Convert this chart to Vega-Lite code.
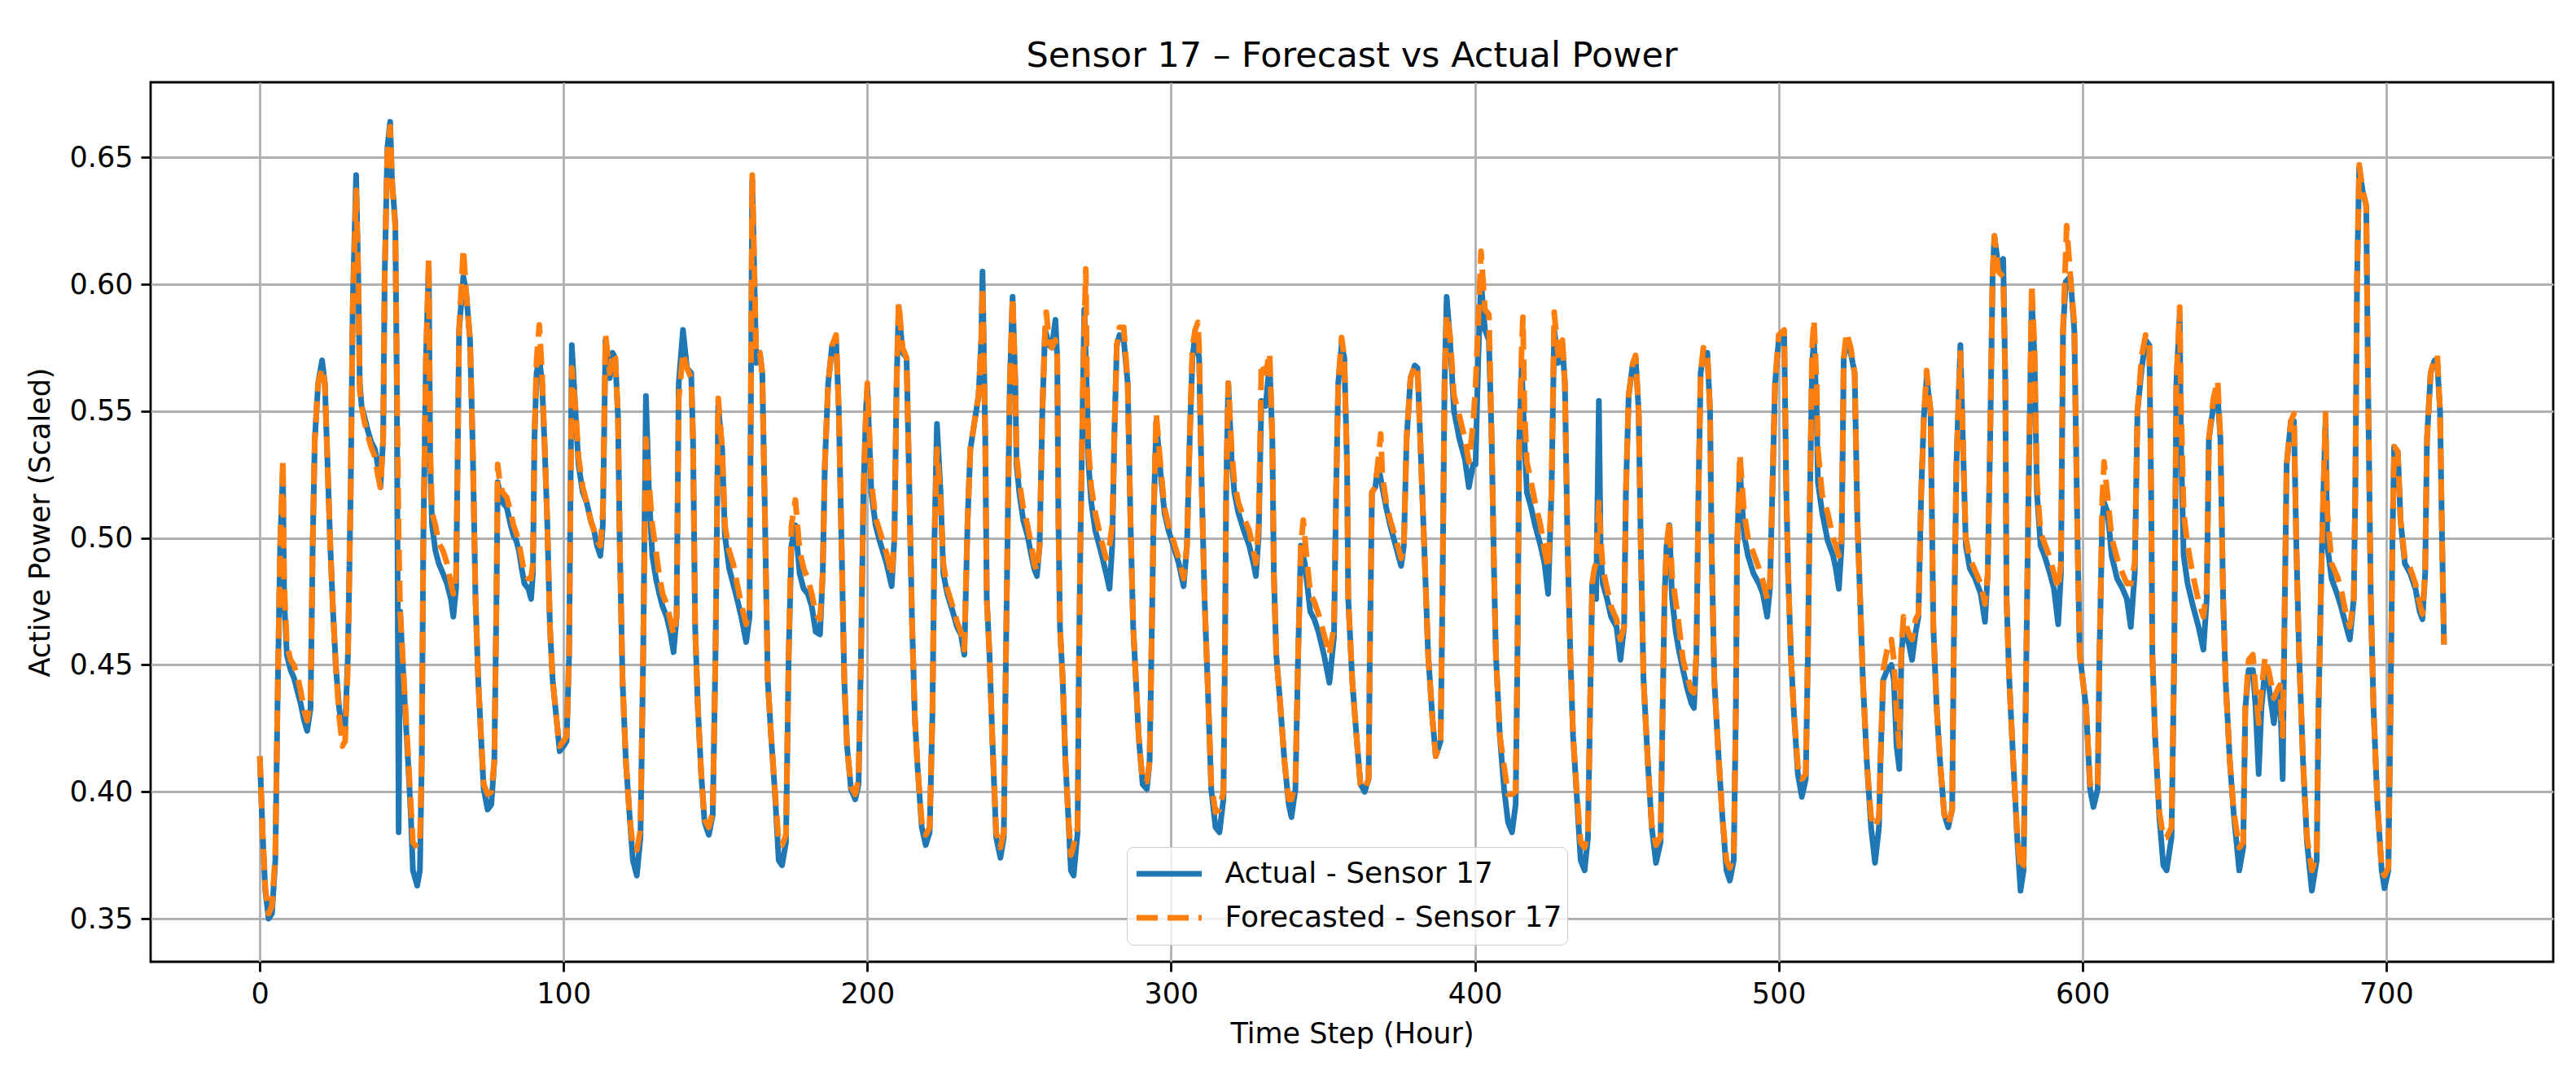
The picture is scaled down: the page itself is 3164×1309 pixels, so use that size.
{
"$schema":"https://vega.github.io/schema/vega-lite/v6.json",
"width":2951,"height":1080,
"autosize":{"type":"none"},
"padding":{"left":185,"top":101,"right":28,"bottom":128},
"background":"white",
"config":{"font":"DejaVu Sans","view":{"stroke":"black","strokeWidth":2.8},
"axis":{"labelFont":"DejaVu Sans","titleFont":"DejaVu Sans","labelFontSize":35,"titleFontSize":35,"titleFontWeight":"normal","labelColor":"black","titleColor":"black","tickColor":"black","tickWidth":2.8,"tickSize":12,"labelPadding":10,"domain":false,"grid":true,"gridColor":"#b0b0b0","gridWidth":2.8,"labelFlush":false,"labelOverlap":false},
"legend":{"labelFontSize":36,"labelFont":"DejaVu Sans","labelColor":"black","labelLimit":1000,"symbolType":"stroke","symbolSize":6400,"symbolStrokeWidth":7,"symbolOffset":2.5,"labelOffset":25,"padding":6,"rowPadding":0,"clipHeight":54,"strokeColor":"#cccccc","fillColor":"rgba(255,255,255,0.8)","cornerRadius":8}},
"title":{"text":"Sensor 17 – Forecast vs Actual Power","fontSize":43,"fontWeight":"normal","font":"DejaVu Sans","color":"black","anchor":"middle","offset":10},
"data":{"values":[
{"h":0,"v":0.414,"s":"a"},{"h":0.9,"v":0.384,"s":"a"},{"h":1.8,"v":0.361,"s":"a"},{"h":2.9,"v":0.350,"s":"a"},{"h":4.0,"v":0.352,"s":"a"},{"h":5.1,"v":0.373,"s":"a"},{"h":5.8,"v":0.433,"s":"a"},{"h":6.7,"v":0.497,"s":"a"},{"h":7.6,"v":0.527,"s":"a"},{"h":8.0,"v":0.476,"s":"a"},{"h":8.9,"v":0.454,"s":"a"},{"h":10.1,"v":0.448,"s":"a"},{"h":11.2,"v":0.445,"s":"a"},{"h":12.5,"v":0.439,"s":"a"},{"h":13.4,"v":0.435,"s":"a"},{"h":14.6,"v":0.428,"s":"a"},{"h":15.6,"v":0.424,"s":"a"},{"h":16.7,"v":0.433,"s":"a"},{"h":17.4,"v":0.497,"s":"a"},{"h":18.1,"v":0.539,"s":"a"},{"h":19.2,"v":0.561,"s":"a"},{"h":20.5,"v":0.570,"s":"a"},{"h":21.4,"v":0.561,"s":"a"},{"h":22.3,"v":0.529,"s":"a"},{"h":23.2,"v":0.497,"s":"a"},{"h":24.1,"v":0.471,"s":"a"},{"h":25.0,"v":0.450,"s":"a"},{"h":26.1,"v":0.433,"s":"a"},{"h":27.2,"v":0.424,"s":"a"},{"h":28.1,"v":0.426,"s":"a"},{"h":29.0,"v":0.454,"s":"a"},{"h":29.9,"v":0.518,"s":"a"},{"h":30.6,"v":0.593,"s":"a"},{"h":31.7,"v":0.643,"s":"a"},{"h":32.4,"v":0.603,"s":"a"},{"h":32.9,"v":0.561,"s":"a"},{"h":33.5,"v":0.552,"s":"a"},{"h":34.4,"v":0.548,"s":"a"},{"h":35.4,"v":0.543,"s":"a"},{"h":36.6,"v":0.538,"s":"a"},{"h":37.9,"v":0.535,"s":"a"},{"h":38.8,"v":0.529,"s":"a"},{"h":39.7,"v":0.520,"s":"a"},{"h":40.6,"v":0.539,"s":"a"},{"h":41.1,"v":0.603,"s":"a"},{"h":42.0,"v":0.654,"s":"a"},{"h":42.9,"v":0.664,"s":"a"},{"h":43.5,"v":0.641,"s":"a"},{"h":44.6,"v":0.624,"s":"a"},{"h":45.1,"v":0.561,"s":"a"},{"h":45.7,"v":0.384,"s":"a"},{"h":46.2,"v":0.471,"s":"a"},{"h":46.9,"v":0.454,"s":"a"},{"h":47.8,"v":0.433,"s":"a"},{"h":48.8,"v":0.412,"s":"a"},{"h":49.7,"v":0.391,"s":"a"},{"h":50.4,"v":0.369,"s":"a"},{"h":51.8,"v":0.363,"s":"a"},{"h":52.7,"v":0.369,"s":"a"},{"h":53.3,"v":0.412,"s":"a"},{"h":53.8,"v":0.497,"s":"a"},{"h":54.7,"v":0.571,"s":"a"},{"h":55.6,"v":0.607,"s":"a"},{"h":56.1,"v":0.529,"s":"a"},{"h":56.7,"v":0.505,"s":"a"},{"h":57.8,"v":0.495,"s":"a"},{"h":58.9,"v":0.490,"s":"a"},{"h":60.3,"v":0.486,"s":"a"},{"h":61.6,"v":0.482,"s":"a"},{"h":62.9,"v":0.476,"s":"a"},{"h":63.7,"v":0.469,"s":"a"},{"h":64.6,"v":0.480,"s":"a"},{"h":65.2,"v":0.539,"s":"a"},{"h":65.6,"v":0.582,"s":"a"},{"h":67.0,"v":0.603,"s":"a"},{"h":67.9,"v":0.597,"s":"a"},{"h":69.2,"v":0.578,"s":"a"},{"h":70.1,"v":0.535,"s":"a"},{"h":71.0,"v":0.476,"s":"a"},{"h":71.9,"v":0.444,"s":"a"},{"h":72.8,"v":0.422,"s":"a"},{"h":73.7,"v":0.401,"s":"a"},{"h":75.0,"v":0.393,"s":"a"},{"h":76.2,"v":0.395,"s":"a"},{"h":77.2,"v":0.412,"s":"a"},{"h":77.9,"v":0.476,"s":"a"},{"h":78.3,"v":0.522,"s":"a"},{"h":79.0,"v":0.518,"s":"a"},{"h":79.9,"v":0.514,"s":"a"},{"h":81.3,"v":0.512,"s":"a"},{"h":82.6,"v":0.505,"s":"a"},{"h":83.5,"v":0.501,"s":"a"},{"h":84.4,"v":0.499,"s":"a"},{"h":85.3,"v":0.495,"s":"a"},{"h":86.2,"v":0.488,"s":"a"},{"h":87.1,"v":0.482,"s":"a"},{"h":88.4,"v":0.480,"s":"a"},{"h":89.3,"v":0.476,"s":"a"},{"h":89.9,"v":0.486,"s":"a"},{"h":90.4,"v":0.539,"s":"a"},{"h":91.1,"v":0.565,"s":"a"},{"h":92.0,"v":0.571,"s":"a"},{"h":92.9,"v":0.561,"s":"a"},{"h":93.8,"v":0.535,"s":"a"},{"h":94.6,"v":0.507,"s":"a"},{"h":95.5,"v":0.465,"s":"a"},{"h":96.4,"v":0.444,"s":"a"},{"h":97.8,"v":0.427,"s":"a"},{"h":98.7,"v":0.416,"s":"a"},
{"h":100.0,"v":0.418,"s":"a"},{"h":101.0,"v":0.420,"s":"a"},{"h":101.8,"v":0.454,"s":"a"},{"h":102.7,"v":0.576,"s":"a"},{"h":104.0,"v":0.548,"s":"a"},{"h":104.9,"v":0.529,"s":"a"},{"h":106.3,"v":0.518,"s":"a"},{"h":107.6,"v":0.514,"s":"a"},{"h":108.9,"v":0.507,"s":"a"},{"h":110.0,"v":0.503,"s":"a"},{"h":111.0,"v":0.497,"s":"a"},{"h":112.1,"v":0.493,"s":"a"},{"h":112.9,"v":0.505,"s":"a"},{"h":113.8,"v":0.578,"s":"a"},{"h":115.2,"v":0.563,"s":"a"},{"h":116.1,"v":0.573,"s":"a"},{"h":117.0,"v":0.571,"s":"a"},{"h":117.9,"v":0.548,"s":"a"},{"h":118.5,"v":0.497,"s":"a"},{"h":119.4,"v":0.444,"s":"a"},{"h":120.5,"v":0.412,"s":"a"},{"h":121.7,"v":0.391,"s":"a"},{"h":122.8,"v":0.373,"s":"a"},{"h":124.1,"v":0.367,"s":"a"},{"h":125.3,"v":0.382,"s":"a"},{"h":126.2,"v":0.454,"s":"a"},{"h":127.1,"v":0.556,"s":"a"},{"h":128.1,"v":0.518,"s":"a"},{"h":129.2,"v":0.493,"s":"a"},{"h":130.4,"v":0.484,"s":"a"},{"h":131.5,"v":0.478,"s":"a"},{"h":132.6,"v":0.473,"s":"a"},{"h":133.9,"v":0.469,"s":"a"},{"h":135.1,"v":0.463,"s":"a"},{"h":136.2,"v":0.455,"s":"a"},{"h":137.2,"v":0.469,"s":"a"},{"h":137.9,"v":0.561,"s":"a"},{"h":139.3,"v":0.582,"s":"a"},{"h":140.6,"v":0.567,"s":"a"},{"h":142.0,"v":0.565,"s":"a"},{"h":142.6,"v":0.539,"s":"a"},{"h":143.3,"v":0.465,"s":"a"},{"h":144.2,"v":0.433,"s":"a"},{"h":145.3,"v":0.407,"s":"a"},{"h":146.4,"v":0.388,"s":"a"},{"h":147.8,"v":0.383,"s":"a"},{"h":149.1,"v":0.391,"s":"a"},{"h":150.0,"v":0.454,"s":"a"},{"h":150.9,"v":0.552,"s":"a"},{"h":152.2,"v":0.535,"s":"a"},{"h":153.1,"v":0.501,"s":"a"},{"h":154.5,"v":0.488,"s":"a"},{"h":155.8,"v":0.482,"s":"a"},{"h":157.1,"v":0.476,"s":"a"},{"h":158.5,"v":0.469,"s":"a"},{"h":160.1,"v":0.459,"s":"a"},{"h":161.2,"v":0.469,"s":"a"},{"h":162.1,"v":0.641,"s":"a"},{"h":163.4,"v":0.569,"s":"a"},{"h":164.6,"v":0.573,"s":"a"},{"h":165.4,"v":0.565,"s":"a"},{"h":166.3,"v":0.507,"s":"a"},{"h":167.2,"v":0.444,"s":"a"},{"h":168.3,"v":0.422,"s":"a"},{"h":169.6,"v":0.399,"s":"a"},{"h":170.8,"v":0.373,"s":"a"},{"h":171.9,"v":0.371,"s":"a"},{"h":173.2,"v":0.380,"s":"a"},{"h":174.1,"v":0.454,"s":"a"},{"h":175.0,"v":0.497,"s":"a"},{"h":176.3,"v":0.505,"s":"a"},{"h":177.7,"v":0.486,"s":"a"},{"h":179.0,"v":0.480,"s":"a"},{"h":180.4,"v":0.478,"s":"a"},{"h":181.7,"v":0.473,"s":"a"},{"h":183.0,"v":0.463,"s":"a"},{"h":184.4,"v":0.462,"s":"a"},{"h":185.3,"v":0.486,"s":"a"},{"h":186.0,"v":0.529,"s":"a"},{"h":187.1,"v":0.561,"s":"a"},{"h":188.4,"v":0.576,"s":"a"},{"h":189.7,"v":0.578,"s":"a"},{"h":190.6,"v":0.550,"s":"a"},{"h":191.5,"v":0.497,"s":"a"},{"h":192.4,"v":0.444,"s":"a"},{"h":193.3,"v":0.418,"s":"a"},{"h":194.6,"v":0.401,"s":"a"},{"h":196.0,"v":0.397,"s":"a"},{"h":197.1,"v":0.403,"s":"a"},{"h":197.9,"v":0.454,"s":"a"},{"h":198.7,"v":0.518,"s":"a"},{"h":199.6,"v":0.552,"s":"a"},
{"h":200.0,"v":0.559,"s":"a"},{"h":201.3,"v":0.518,"s":"a"},{"h":202.7,"v":0.505,"s":"a"},{"h":204.0,"v":0.499,"s":"a"},{"h":206.3,"v":0.490,"s":"a"},{"h":208.0,"v":0.481,"s":"a"},{"h":208.9,"v":0.500,"s":"a"},{"h":209.6,"v":0.560,"s":"a"},{"h":210.3,"v":0.591,"s":"a"},{"h":211.6,"v":0.573,"s":"a"},{"h":212.9,"v":0.571,"s":"a"},{"h":213.8,"v":0.520,"s":"a"},{"h":214.7,"v":0.467,"s":"a"},{"h":215.6,"v":0.430,"s":"a"},{"h":216.5,"v":0.410,"s":"a"},{"h":217.9,"v":0.386,"s":"a"},{"h":219.2,"v":0.379,"s":"a"},{"h":220.5,"v":0.384,"s":"a"},{"h":221.4,"v":0.430,"s":"a"},{"h":222.1,"v":0.500,"s":"a"},{"h":222.9,"v":0.545,"s":"a"},{"h":224.1,"v":0.518,"s":"a"},{"h":225.0,"v":0.486,"s":"a"},{"h":226.3,"v":0.478,"s":"a"},{"h":228.1,"v":0.471,"s":"a"},{"h":229.5,"v":0.465,"s":"a"},{"h":230.8,"v":0.462,"s":"a"},{"h":231.9,"v":0.454,"s":"a"},{"h":233.0,"v":0.507,"s":"a"},{"h":233.9,"v":0.535,"s":"a"},{"h":235.3,"v":0.546,"s":"a"},{"h":236.6,"v":0.556,"s":"a"},{"h":237.5,"v":0.578,"s":"a"},{"h":237.9,"v":0.605,"s":"a"},{"h":238.8,"v":0.540,"s":"a"},{"h":239.3,"v":0.476,"s":"a"},{"h":240.2,"v":0.454,"s":"a"},{"h":241.1,"v":0.422,"s":"a"},{"h":242.4,"v":0.382,"s":"a"},{"h":243.8,"v":0.374,"s":"a"},{"h":244.9,"v":0.382,"s":"a"},{"h":245.5,"v":0.444,"s":"a"},{"h":246.2,"v":0.505,"s":"a"},{"h":246.9,"v":0.561,"s":"a"},{"h":247.8,"v":0.595,"s":"a"},{"h":248.7,"v":0.561,"s":"a"},{"h":249.1,"v":0.529,"s":"a"},{"h":250.0,"v":0.518,"s":"a"},{"h":251.3,"v":0.507,"s":"a"},{"h":252.7,"v":0.501,"s":"a"},{"h":254.0,"v":0.493,"s":"a"},{"h":254.9,"v":0.488,"s":"a"},{"h":255.8,"v":0.485,"s":"a"},{"h":256.7,"v":0.497,"s":"a"},{"h":257.6,"v":0.550,"s":"a"},{"h":258.5,"v":0.582,"s":"a"},{"h":259.8,"v":0.576,"s":"a"},{"h":260.7,"v":0.575,"s":"a"},{"h":261.9,"v":0.586,"s":"a"},{"h":262.5,"v":0.571,"s":"a"},{"h":262.9,"v":0.507,"s":"a"},{"h":263.4,"v":0.465,"s":"a"},{"h":264.3,"v":0.444,"s":"a"},{"h":265.2,"v":0.412,"s":"a"},{"h":266.1,"v":0.391,"s":"a"},{"h":267.0,"v":0.369,"s":"a"},{"h":267.9,"v":0.367,"s":"a"},{"h":269.2,"v":0.384,"s":"a"},{"h":269.6,"v":0.444,"s":"a"},{"h":270.1,"v":0.497,"s":"a"},{"h":271.0,"v":0.561,"s":"a"},{"h":271.4,"v":0.590,"s":"a"},{"h":272.3,"v":0.556,"s":"a"},{"h":272.8,"v":0.529,"s":"a"},{"h":273.7,"v":0.514,"s":"a"},{"h":275.0,"v":0.503,"s":"a"},{"h":276.8,"v":0.495,"s":"a"},{"h":278.6,"v":0.486,"s":"a"},{"h":279.7,"v":0.480,"s":"a"},{"h":280.6,"v":0.497,"s":"a"},{"h":281.3,"v":0.540,"s":"a"},{"h":282.1,"v":0.576,"s":"a"},{"h":283.0,"v":0.580,"s":"a"},{"h":284.4,"v":0.578,"s":"a"},{"h":285.7,"v":0.561,"s":"a"},{"h":286.6,"v":0.507,"s":"a"},{"h":287.5,"v":0.465,"s":"a"},{"h":288.4,"v":0.444,"s":"a"},{"h":289.3,"v":0.422,"s":"a"},{"h":290.6,"v":0.403,"s":"a"},{"h":292.0,"v":0.401,"s":"a"},{"h":292.9,"v":0.412,"s":"a"},{"h":293.5,"v":0.454,"s":"a"},{"h":294.2,"v":0.507,"s":"a"},{"h":295.1,"v":0.546,"s":"a"},{"h":296.4,"v":0.527,"s":"a"},{"h":297.8,"v":0.510,"s":"a"},{"h":299.1,"v":0.503,"s":"a"},
{"h":300.7,"v":0.497,"s":"a"},{"h":302.5,"v":0.490,"s":"a"},{"h":304.1,"v":0.481,"s":"a"},{"h":305.2,"v":0.497,"s":"a"},{"h":306.1,"v":0.539,"s":"a"},{"h":307.0,"v":0.571,"s":"a"},{"h":307.9,"v":0.580,"s":"a"},{"h":309.2,"v":0.571,"s":"a"},{"h":310.1,"v":0.518,"s":"a"},{"h":311.0,"v":0.476,"s":"a"},{"h":312.3,"v":0.433,"s":"a"},{"h":313.2,"v":0.401,"s":"a"},{"h":314.6,"v":0.386,"s":"a"},{"h":315.9,"v":0.384,"s":"a"},{"h":317.2,"v":0.397,"s":"a"},{"h":317.7,"v":0.454,"s":"a"},{"h":318.1,"v":0.518,"s":"a"},{"h":318.8,"v":0.561,"s":"a"},{"h":319.9,"v":0.531,"s":"a"},{"h":320.8,"v":0.518,"s":"a"},{"h":322.1,"v":0.510,"s":"a"},{"h":323.9,"v":0.503,"s":"a"},{"h":325.7,"v":0.497,"s":"a"},{"h":327.1,"v":0.490,"s":"a"},{"h":327.9,"v":0.485,"s":"a"},{"h":328.8,"v":0.501,"s":"a"},{"h":329.7,"v":0.554,"s":"a"},{"h":331.1,"v":0.552,"s":"a"},{"h":332.4,"v":0.569,"s":"a"},{"h":333.3,"v":0.539,"s":"a"},{"h":333.8,"v":0.486,"s":"a"},{"h":334.6,"v":0.454,"s":"a"},{"h":336.0,"v":0.433,"s":"a"},{"h":337.3,"v":0.412,"s":"a"},{"h":338.7,"v":0.395,"s":"a"},{"h":339.6,"v":0.390,"s":"a"},{"h":340.9,"v":0.401,"s":"a"},{"h":341.8,"v":0.454,"s":"a"},{"h":342.7,"v":0.497,"s":"a"},{"h":344.0,"v":0.490,"s":"a"},{"h":345.8,"v":0.471,"s":"a"},{"h":347.1,"v":0.468,"s":"a"},{"h":348.5,"v":0.463,"s":"a"},{"h":350.3,"v":0.454,"s":"a"},{"h":352.1,"v":0.443,"s":"a"},{"h":353.6,"v":0.461,"s":"a"},{"h":354.3,"v":0.518,"s":"a"},{"h":355.0,"v":0.561,"s":"a"},{"h":356.1,"v":0.576,"s":"a"},{"h":357.0,"v":0.571,"s":"a"},{"h":357.9,"v":0.529,"s":"a"},{"h":358.3,"v":0.476,"s":"a"},{"h":359.6,"v":0.444,"s":"a"},{"h":361.0,"v":0.422,"s":"a"},{"h":362.3,"v":0.403,"s":"a"},{"h":363.7,"v":0.400,"s":"a"},{"h":365.0,"v":0.405,"s":"a"},{"h":365.4,"v":0.454,"s":"a"},{"h":366.1,"v":0.518,"s":"a"},{"h":367.2,"v":0.520,"s":"a"},{"h":368.1,"v":0.529,"s":"a"},{"h":369.5,"v":0.520,"s":"a"},{"h":370.8,"v":0.512,"s":"a"},{"h":372.1,"v":0.505,"s":"a"},{"h":373.9,"v":0.497,"s":"a"},{"h":375.7,"v":0.489,"s":"a"},{"h":376.6,"v":0.497,"s":"a"},{"h":377.5,"v":0.539,"s":"a"},{"h":378.8,"v":0.563,"s":"a"},{"h":380.2,"v":0.568,"s":"a"},{"h":381.1,"v":0.567,"s":"a"},{"h":382.0,"v":0.539,"s":"a"},{"h":383.3,"v":0.497,"s":"a"},{"h":384.6,"v":0.454,"s":"a"},{"h":386.0,"v":0.429,"s":"a"},{"h":387.1,"v":0.414,"s":"a"},{"h":388.7,"v":0.420,"s":"a"},{"h":389.3,"v":0.476,"s":"a"},{"h":390.0,"v":0.561,"s":"a"},{"h":390.7,"v":0.595,"s":"a"},{"h":391.8,"v":0.578,"s":"a"},{"h":393.1,"v":0.550,"s":"a"},{"h":394.9,"v":0.539,"s":"a"},{"h":396.7,"v":0.531,"s":"a"},{"h":398.0,"v":0.520,"s":"a"},{"h":399.4,"v":0.529,"s":"a"},
{"h":400.2,"v":0.529,"s":"a"},{"h":401.1,"v":0.571,"s":"a"},{"h":402.0,"v":0.601,"s":"a"},{"h":403.3,"v":0.582,"s":"a"},{"h":404.6,"v":0.578,"s":"a"},{"h":405.5,"v":0.539,"s":"a"},{"h":406.3,"v":0.486,"s":"a"},{"h":406.9,"v":0.454,"s":"a"},{"h":408.2,"v":0.422,"s":"a"},{"h":409.6,"v":0.401,"s":"a"},{"h":410.9,"v":0.388,"s":"a"},{"h":412.2,"v":0.384,"s":"a"},{"h":413.4,"v":0.395,"s":"a"},{"h":414.0,"v":0.454,"s":"a"},{"h":414.6,"v":0.539,"s":"a"},{"h":415.4,"v":0.567,"s":"a"},{"h":416.3,"v":0.539,"s":"a"},{"h":417.1,"v":0.518,"s":"a"},{"h":418.5,"v":0.512,"s":"a"},{"h":419.8,"v":0.505,"s":"a"},{"h":421.6,"v":0.497,"s":"a"},{"h":422.9,"v":0.490,"s":"a"},{"h":424.1,"v":0.478,"s":"a"},{"h":425.2,"v":0.518,"s":"a"},{"h":426.1,"v":0.582,"s":"a"},{"h":427.4,"v":0.569,"s":"a"},{"h":428.8,"v":0.576,"s":"a"},{"h":429.6,"v":0.561,"s":"a"},{"h":430.5,"v":0.497,"s":"a"},{"h":431.4,"v":0.454,"s":"a"},{"h":432.3,"v":0.422,"s":"a"},{"h":433.7,"v":0.395,"s":"a"},{"h":434.8,"v":0.373,"s":"a"},{"h":436.1,"v":0.369,"s":"a"},{"h":437.2,"v":0.382,"s":"a"},{"h":437.9,"v":0.433,"s":"a"},{"h":438.6,"v":0.482,"s":"a"},{"h":439.3,"v":0.486,"s":"a"},{"h":439.9,"v":0.476,"s":"a"},{"h":440.8,"v":0.554,"s":"a"},{"h":441.4,"v":0.493,"s":"a"},{"h":442.1,"v":0.482,"s":"a"},{"h":443.5,"v":0.476,"s":"a"},{"h":444.8,"v":0.469,"s":"a"},{"h":446.6,"v":0.465,"s":"a"},{"h":447.9,"v":0.452,"s":"a"},{"h":449.1,"v":0.465,"s":"a"},{"h":449.7,"v":0.518,"s":"a"},{"h":450.6,"v":0.556,"s":"a"},{"h":452.0,"v":0.569,"s":"a"},{"h":452.9,"v":0.571,"s":"a"},{"h":453.9,"v":0.550,"s":"a"},{"h":454.6,"v":0.497,"s":"a"},{"h":455.5,"v":0.444,"s":"a"},{"h":456.9,"v":0.412,"s":"a"},{"h":458.2,"v":0.386,"s":"a"},{"h":459.6,"v":0.372,"s":"a"},{"h":461.1,"v":0.380,"s":"a"},{"h":461.8,"v":0.433,"s":"a"},{"h":462.4,"v":0.476,"s":"a"},{"h":463.1,"v":0.497,"s":"a"},{"h":464.0,"v":0.505,"s":"a"},{"h":464.9,"v":0.476,"s":"a"},{"h":466.1,"v":0.463,"s":"a"},{"h":467.1,"v":0.456,"s":"a"},{"h":468.5,"v":0.448,"s":"a"},{"h":469.8,"v":0.441,"s":"a"},{"h":471.2,"v":0.435,"s":"a"},{"h":472.1,"v":0.433,"s":"a"},{"h":472.9,"v":0.454,"s":"a"},{"h":473.6,"v":0.518,"s":"a"},{"h":474.3,"v":0.565,"s":"a"},{"h":475.2,"v":0.573,"s":"a"},{"h":476.5,"v":0.573,"s":"a"},{"h":477.4,"v":0.550,"s":"a"},{"h":477.9,"v":0.497,"s":"a"},{"h":478.8,"v":0.444,"s":"a"},{"h":480.1,"v":0.416,"s":"a"},{"h":481.4,"v":0.391,"s":"a"},{"h":482.8,"v":0.369,"s":"a"},{"h":483.9,"v":0.365,"s":"a"},{"h":485.2,"v":0.373,"s":"a"},{"h":485.9,"v":0.433,"s":"a"},{"h":486.3,"v":0.497,"s":"a"},{"h":487.2,"v":0.527,"s":"a"},{"h":488.6,"v":0.501,"s":"a"},{"h":489.9,"v":0.493,"s":"a"},{"h":491.7,"v":0.486,"s":"a"},{"h":493.5,"v":0.482,"s":"a"},{"h":494.8,"v":0.478,"s":"a"},{"h":496.2,"v":0.469,"s":"a"},{"h":497.1,"v":0.480,"s":"a"},{"h":497.9,"v":0.518,"s":"a"},{"h":498.8,"v":0.561,"s":"a"},{"h":500.0,"v":0.578,"s":"a"},
{"h":501.8,"v":0.580,"s":"a"},{"h":502.5,"v":0.518,"s":"a"},{"h":503.1,"v":0.486,"s":"a"},{"h":504.0,"v":0.454,"s":"a"},{"h":504.9,"v":0.433,"s":"a"},{"h":506.3,"v":0.407,"s":"a"},{"h":507.6,"v":0.398,"s":"a"},{"h":508.9,"v":0.405,"s":"a"},{"h":509.6,"v":0.454,"s":"a"},{"h":510.3,"v":0.518,"s":"a"},{"h":511.0,"v":0.569,"s":"a"},{"h":511.6,"v":0.578,"s":"a"},{"h":512.5,"v":0.550,"s":"a"},{"h":512.9,"v":0.522,"s":"a"},{"h":514.3,"v":0.510,"s":"a"},{"h":516.1,"v":0.499,"s":"a"},{"h":517.9,"v":0.493,"s":"a"},{"h":518.8,"v":0.488,"s":"a"},{"h":519.8,"v":0.480,"s":"a"},{"h":520.7,"v":0.497,"s":"a"},{"h":521.4,"v":0.571,"s":"a"},{"h":522.3,"v":0.576,"s":"a"},{"h":523.7,"v":0.573,"s":"a"},{"h":525.0,"v":0.565,"s":"a"},{"h":525.9,"v":0.507,"s":"a"},{"h":526.8,"v":0.476,"s":"a"},{"h":527.7,"v":0.444,"s":"a"},{"h":529.0,"v":0.412,"s":"a"},{"h":530.4,"v":0.386,"s":"a"},{"h":531.7,"v":0.372,"s":"a"},{"h":533.0,"v":0.386,"s":"a"},{"h":533.5,"v":0.412,"s":"a"},{"h":534.4,"v":0.444,"s":"a"},{"h":535.7,"v":0.448,"s":"a"},{"h":537.1,"v":0.450,"s":"a"},{"h":537.9,"v":0.444,"s":"a"},{"h":538.8,"v":0.418,"s":"a"},{"h":539.7,"v":0.409,"s":"a"},{"h":540.4,"v":0.454,"s":"a"},{"h":541.1,"v":0.465,"s":"a"},{"h":542.9,"v":0.458,"s":"a"},{"h":543.9,"v":0.452,"s":"a"},{"h":545.1,"v":0.463,"s":"a"},{"h":546.0,"v":0.469,"s":"a"},{"h":546.9,"v":0.518,"s":"a"},{"h":547.8,"v":0.548,"s":"a"},{"h":548.7,"v":0.563,"s":"a"},{"h":550.0,"v":0.550,"s":"a"},{"h":550.9,"v":0.465,"s":"a"},{"h":552.0,"v":0.433,"s":"a"},{"h":553.1,"v":0.412,"s":"a"},{"h":554.5,"v":0.391,"s":"a"},{"h":555.8,"v":0.386,"s":"a"},{"h":557.1,"v":0.393,"s":"a"},{"h":557.6,"v":0.454,"s":"a"},{"h":558.5,"v":0.529,"s":"a"},{"h":559.8,"v":0.576,"s":"a"},{"h":560.7,"v":0.535,"s":"a"},{"h":561.6,"v":0.497,"s":"a"},{"h":562.9,"v":0.488,"s":"a"},{"h":564.7,"v":0.484,"s":"a"},{"h":566.5,"v":0.478,"s":"a"},{"h":567.9,"v":0.467,"s":"a"},{"h":568.8,"v":0.486,"s":"a"},{"h":569.6,"v":0.539,"s":"a"},{"h":570.4,"v":0.603,"s":"a"},{"h":571.0,"v":0.619,"s":"a"},{"h":572.3,"v":0.607,"s":"a"},{"h":573.9,"v":0.610,"s":"a"},{"h":574.6,"v":0.561,"s":"a"},{"h":575.0,"v":0.476,"s":"a"},{"h":575.9,"v":0.444,"s":"a"},{"h":577.2,"v":0.412,"s":"a"},{"h":578.6,"v":0.380,"s":"a"},{"h":579.6,"v":0.361,"s":"a"},{"h":580.6,"v":0.369,"s":"a"},{"h":581.3,"v":0.433,"s":"a"},{"h":582.1,"v":0.507,"s":"a"},{"h":583.3,"v":0.595,"s":"a"},{"h":584.2,"v":0.571,"s":"a"},{"h":585.0,"v":0.518,"s":"a"},{"h":586.2,"v":0.497,"s":"a"},{"h":587.5,"v":0.493,"s":"a"},{"h":589.3,"v":0.486,"s":"a"},{"h":590.6,"v":0.480,"s":"a"},{"h":592.0,"v":0.466,"s":"a"},{"h":592.9,"v":0.486,"s":"a"},{"h":593.6,"v":0.582,"s":"a"},{"h":594.5,"v":0.601,"s":"a"},{"h":596.0,"v":0.603,"s":"a"},{"h":597.3,"v":0.582,"s":"a"},{"h":598.4,"v":0.497,"s":"a"},{"h":599.1,"v":0.454,"s":"a"},
{"h":601.2,"v":0.433,"s":"a"},{"h":602.5,"v":0.401,"s":"a"},{"h":603.6,"v":0.394,"s":"a"},{"h":605.0,"v":0.401,"s":"a"},{"h":605.6,"v":0.454,"s":"a"},{"h":606.5,"v":0.507,"s":"a"},{"h":607.1,"v":0.514,"s":"a"},{"h":608.3,"v":0.510,"s":"a"},{"h":609.6,"v":0.493,"s":"a"},{"h":611.4,"v":0.484,"s":"a"},{"h":613.2,"v":0.480,"s":"a"},{"h":614.6,"v":0.476,"s":"a"},{"h":615.9,"v":0.465,"s":"a"},{"h":617.2,"v":0.486,"s":"a"},{"h":618.1,"v":0.550,"s":"a"},{"h":619.5,"v":0.567,"s":"a"},{"h":620.8,"v":0.578,"s":"a"},{"h":622.0,"v":0.576,"s":"a"},{"h":622.6,"v":0.518,"s":"a"},{"h":623.0,"v":0.454,"s":"a"},{"h":623.9,"v":0.422,"s":"a"},{"h":625.3,"v":0.390,"s":"a"},{"h":626.6,"v":0.371,"s":"a"},{"h":627.7,"v":0.369,"s":"a"},{"h":629.3,"v":0.382,"s":"a"},{"h":630.2,"v":0.454,"s":"a"},{"h":630.9,"v":0.561,"s":"a"},{"h":632.0,"v":0.588,"s":"a"},{"h":632.4,"v":0.539,"s":"a"},{"h":633.3,"v":0.493,"s":"a"},{"h":634.6,"v":0.482,"s":"a"},{"h":636.4,"v":0.473,"s":"a"},{"h":638.2,"v":0.465,"s":"a"},{"h":639.8,"v":0.456,"s":"a"},{"h":640.9,"v":0.476,"s":"a"},{"h":641.6,"v":0.539,"s":"a"},{"h":643.1,"v":0.552,"s":"a"},{"h":644.5,"v":0.556,"s":"a"},{"h":645.4,"v":0.539,"s":"a"},{"h":646.3,"v":0.476,"s":"a"},{"h":647.1,"v":0.444,"s":"a"},{"h":648.5,"v":0.412,"s":"a"},{"h":649.8,"v":0.391,"s":"a"},{"h":651.6,"v":0.369,"s":"a"},{"h":652.9,"v":0.378,"s":"a"},{"h":653.6,"v":0.433,"s":"a"},{"h":654.7,"v":0.448,"s":"a"},{"h":656.1,"v":0.448,"s":"a"},{"h":657.0,"v":0.433,"s":"a"},{"h":658.0,"v":0.407,"s":"a"},{"h":658.9,"v":0.433,"s":"a"},{"h":660.1,"v":0.448,"s":"a"},{"h":661.4,"v":0.441,"s":"a"},{"h":663.0,"v":0.427,"s":"a"},{"h":664.1,"v":0.437,"s":"a"},{"h":665.0,"v":0.441,"s":"a"},{"h":665.9,"v":0.405,"s":"a"},{"h":666.6,"v":0.476,"s":"a"},{"h":667.2,"v":0.529,"s":"a"},{"h":668.6,"v":0.546,"s":"a"},{"h":669.6,"v":0.546,"s":"a"},{"h":670.4,"v":0.497,"s":"a"},{"h":671.3,"v":0.454,"s":"a"},{"h":672.6,"v":0.412,"s":"a"},{"h":673.9,"v":0.380,"s":"a"},{"h":675.5,"v":0.361,"s":"a"},{"h":677.1,"v":0.373,"s":"a"},{"h":677.7,"v":0.433,"s":"a"},{"h":678.6,"v":0.486,"s":"a"},{"h":679.3,"v":0.518,"s":"a"},{"h":680.0,"v":0.546,"s":"a"},{"h":680.6,"v":0.497,"s":"a"},{"h":682.0,"v":0.484,"s":"a"},{"h":683.8,"v":0.478,"s":"a"},{"h":685.1,"v":0.473,"s":"a"},{"h":686.4,"v":0.467,"s":"a"},{"h":688.0,"v":0.460,"s":"a"},{"h":689.3,"v":0.476,"s":"a"},{"h":689.8,"v":0.518,"s":"a"},{"h":690.4,"v":0.603,"s":"a"},{"h":691.1,"v":0.646,"s":"a"},{"h":692.2,"v":0.637,"s":"a"},{"h":693.4,"v":0.631,"s":"a"},{"h":694.0,"v":0.561,"s":"a"},{"h":694.9,"v":0.476,"s":"a"},{"h":695.8,"v":0.433,"s":"a"},{"h":697.1,"v":0.395,"s":"a"},{"h":698.5,"v":0.369,"s":"a"},{"h":699.4,"v":0.362,"s":"a"},{"h":700.7,"v":0.369,"s":"a"},{"h":701.4,"v":0.433,"s":"a"},{"h":702.0,"v":0.497,"s":"a"},{"h":702.6,"v":0.536,"s":"a"},{"h":703.8,"v":0.534,"s":"a"},{"h":704.7,"v":0.507,"s":"a"},{"h":706.1,"v":0.490,"s":"a"},{"h":707.9,"v":0.486,"s":"a"},{"h":709.6,"v":0.480,"s":"a"},{"h":711.0,"v":0.471,"s":"a"},{"h":711.9,"v":0.468,"s":"a"},{"h":712.8,"v":0.486,"s":"a"},{"h":713.4,"v":0.539,"s":"a"},{"h":714.6,"v":0.565,"s":"a"},{"h":715.9,"v":0.570,"s":"a"},{"h":716.8,"v":0.569,"s":"a"},{"h":717.7,"v":0.550,"s":"a"},{"h":718.4,"v":0.497,"s":"a"},{"h":719.0,"v":0.458,"s":"a"},
{"h":0,"v":0.414,"s":"f"},{"h":0.9,"v":0.384,"s":"f"},{"h":1.8,"v":0.362,"s":"f"},{"h":2.9,"v":0.352,"s":"f"},{"h":4.0,"v":0.355,"s":"f"},{"h":5.1,"v":0.375,"s":"f"},{"h":5.8,"v":0.433,"s":"f"},{"h":6.7,"v":0.497,"s":"f"},{"h":7.6,"v":0.531,"s":"f"},{"h":8.0,"v":0.482,"s":"f"},{"h":8.9,"v":0.458,"s":"f"},{"h":10.1,"v":0.452,"s":"f"},{"h":11.2,"v":0.450,"s":"f"},{"h":12.5,"v":0.445,"s":"f"},{"h":13.4,"v":0.440,"s":"f"},{"h":14.6,"v":0.432,"s":"f"},{"h":15.6,"v":0.428,"s":"f"},{"h":16.7,"v":0.436,"s":"f"},{"h":17.4,"v":0.497,"s":"f"},{"h":18.1,"v":0.539,"s":"f"},{"h":19.2,"v":0.561,"s":"f"},{"h":20.5,"v":0.567,"s":"f"},{"h":21.4,"v":0.561,"s":"f"},{"h":22.3,"v":0.529,"s":"f"},{"h":23.2,"v":0.497,"s":"f"},{"h":24.1,"v":0.471,"s":"f"},{"h":25.0,"v":0.450,"s":"f"},{"h":26.1,"v":0.430,"s":"f"},{"h":27.2,"v":0.418,"s":"f"},{"h":28.1,"v":0.420,"s":"f"},{"h":29.0,"v":0.450,"s":"f"},{"h":29.9,"v":0.518,"s":"f"},{"h":30.6,"v":0.590,"s":"f"},{"h":31.7,"v":0.637,"s":"f"},{"h":32.4,"v":0.603,"s":"f"},{"h":32.9,"v":0.558,"s":"f"},{"h":33.5,"v":0.552,"s":"f"},{"h":34.4,"v":0.546,"s":"f"},{"h":35.4,"v":0.541,"s":"f"},{"h":36.6,"v":0.536,"s":"f"},{"h":37.9,"v":0.532,"s":"f"},{"h":38.8,"v":0.525,"s":"f"},{"h":39.7,"v":0.520,"s":"f"},{"h":40.6,"v":0.539,"s":"f"},{"h":41.1,"v":0.603,"s":"f"},{"h":42.0,"v":0.652,"s":"f"},{"h":42.9,"v":0.662,"s":"f"},{"h":43.5,"v":0.641,"s":"f"},{"h":44.6,"v":0.622,"s":"f"},{"h":45.1,"v":0.565,"s":"f"},{"h":45.7,"v":0.500,"s":"f"},{"h":46.2,"v":0.471,"s":"f"},{"h":46.9,"v":0.456,"s":"f"},{"h":47.8,"v":0.436,"s":"f"},{"h":48.8,"v":0.415,"s":"f"},{"h":49.7,"v":0.395,"s":"f"},{"h":50.4,"v":0.380,"s":"f"},{"h":51.8,"v":0.378,"s":"f"},{"h":52.7,"v":0.380,"s":"f"},{"h":53.3,"v":0.412,"s":"f"},{"h":53.8,"v":0.497,"s":"f"},{"h":54.7,"v":0.571,"s":"f"},{"h":55.6,"v":0.610,"s":"f"},{"h":56.1,"v":0.535,"s":"f"},{"h":56.7,"v":0.510,"s":"f"},{"h":57.8,"v":0.505,"s":"f"},{"h":58.9,"v":0.498,"s":"f"},{"h":60.3,"v":0.495,"s":"f"},{"h":61.6,"v":0.490,"s":"f"},{"h":62.9,"v":0.482,"s":"f"},{"h":63.7,"v":0.478,"s":"f"},{"h":64.6,"v":0.485,"s":"f"},{"h":65.2,"v":0.539,"s":"f"},{"h":65.6,"v":0.582,"s":"f"},{"h":67.0,"v":0.614,"s":"f"},{"h":67.9,"v":0.597,"s":"f"},{"h":69.2,"v":0.578,"s":"f"},{"h":70.1,"v":0.535,"s":"f"},{"h":71.0,"v":0.476,"s":"f"},{"h":71.9,"v":0.444,"s":"f"},{"h":72.8,"v":0.422,"s":"f"},{"h":73.7,"v":0.403,"s":"f"},{"h":75.0,"v":0.399,"s":"f"},{"h":76.2,"v":0.400,"s":"f"},{"h":77.2,"v":0.412,"s":"f"},{"h":77.9,"v":0.476,"s":"f"},{"h":78.3,"v":0.529,"s":"f"},{"h":79.0,"v":0.522,"s":"f"},{"h":79.9,"v":0.518,"s":"f"},{"h":81.3,"v":0.516,"s":"f"},{"h":82.6,"v":0.510,"s":"f"},{"h":83.5,"v":0.505,"s":"f"},{"h":84.4,"v":0.502,"s":"f"},{"h":85.3,"v":0.498,"s":"f"},{"h":86.2,"v":0.492,"s":"f"},{"h":87.1,"v":0.486,"s":"f"},{"h":88.4,"v":0.484,"s":"f"},{"h":89.3,"v":0.484,"s":"f"},{"h":89.9,"v":0.490,"s":"f"},{"h":90.4,"v":0.539,"s":"f"},{"h":91.1,"v":0.570,"s":"f"},{"h":92.0,"v":0.584,"s":"f"},{"h":92.9,"v":0.565,"s":"f"},{"h":93.8,"v":0.535,"s":"f"},{"h":94.6,"v":0.507,"s":"f"},{"h":95.5,"v":0.465,"s":"f"},{"h":96.4,"v":0.444,"s":"f"},{"h":97.8,"v":0.427,"s":"f"},{"h":98.7,"v":0.418,"s":"f"},
{"h":100.0,"v":0.420,"s":"f"},{"h":101.0,"v":0.422,"s":"f"},{"h":101.8,"v":0.454,"s":"f"},{"h":102.7,"v":0.567,"s":"f"},{"h":104.0,"v":0.550,"s":"f"},{"h":104.9,"v":0.532,"s":"f"},{"h":106.3,"v":0.520,"s":"f"},{"h":107.6,"v":0.514,"s":"f"},{"h":108.9,"v":0.507,"s":"f"},{"h":110.0,"v":0.503,"s":"f"},{"h":111.0,"v":0.499,"s":"f"},{"h":112.1,"v":0.497,"s":"f"},{"h":112.9,"v":0.510,"s":"f"},{"h":113.8,"v":0.580,"s":"f"},{"h":115.2,"v":0.565,"s":"f"},{"h":116.1,"v":0.573,"s":"f"},{"h":117.0,"v":0.571,"s":"f"},{"h":117.9,"v":0.548,"s":"f"},{"h":118.5,"v":0.497,"s":"f"},{"h":119.4,"v":0.444,"s":"f"},{"h":120.5,"v":0.412,"s":"f"},{"h":121.7,"v":0.391,"s":"f"},{"h":122.8,"v":0.378,"s":"f"},{"h":124.1,"v":0.377,"s":"f"},{"h":125.3,"v":0.385,"s":"f"},{"h":126.2,"v":0.454,"s":"f"},{"h":127.1,"v":0.539,"s":"f"},{"h":128.1,"v":0.522,"s":"f"},{"h":129.2,"v":0.505,"s":"f"},{"h":130.4,"v":0.495,"s":"f"},{"h":131.5,"v":0.485,"s":"f"},{"h":132.6,"v":0.478,"s":"f"},{"h":133.9,"v":0.474,"s":"f"},{"h":135.1,"v":0.468,"s":"f"},{"h":136.2,"v":0.462,"s":"f"},{"h":137.2,"v":0.469,"s":"f"},{"h":137.9,"v":0.555,"s":"f"},{"h":139.3,"v":0.573,"s":"f"},{"h":140.6,"v":0.567,"s":"f"},{"h":142.0,"v":0.563,"s":"f"},{"h":142.6,"v":0.539,"s":"f"},{"h":143.3,"v":0.465,"s":"f"},{"h":144.2,"v":0.433,"s":"f"},{"h":145.3,"v":0.407,"s":"f"},{"h":146.4,"v":0.389,"s":"f"},{"h":147.8,"v":0.386,"s":"f"},{"h":149.1,"v":0.392,"s":"f"},{"h":150.0,"v":0.454,"s":"f"},{"h":150.9,"v":0.555,"s":"f"},{"h":152.2,"v":0.535,"s":"f"},{"h":153.1,"v":0.505,"s":"f"},{"h":154.5,"v":0.495,"s":"f"},{"h":155.8,"v":0.490,"s":"f"},{"h":157.1,"v":0.482,"s":"f"},{"h":158.5,"v":0.474,"s":"f"},{"h":160.1,"v":0.466,"s":"f"},{"h":161.2,"v":0.472,"s":"f"},{"h":162.1,"v":0.643,"s":"f"},{"h":163.4,"v":0.572,"s":"f"},{"h":164.6,"v":0.573,"s":"f"},{"h":165.4,"v":0.565,"s":"f"},{"h":166.3,"v":0.507,"s":"f"},{"h":167.2,"v":0.444,"s":"f"},{"h":168.3,"v":0.422,"s":"f"},{"h":169.6,"v":0.400,"s":"f"},{"h":170.8,"v":0.380,"s":"f"},{"h":171.9,"v":0.379,"s":"f"},{"h":173.2,"v":0.383,"s":"f"},{"h":174.1,"v":0.454,"s":"f"},{"h":175.0,"v":0.505,"s":"f"},{"h":176.3,"v":0.515,"s":"f"},{"h":177.7,"v":0.495,"s":"f"},{"h":179.0,"v":0.488,"s":"f"},{"h":180.4,"v":0.484,"s":"f"},{"h":181.7,"v":0.478,"s":"f"},{"h":183.0,"v":0.470,"s":"f"},{"h":184.4,"v":0.468,"s":"f"},{"h":185.3,"v":0.486,"s":"f"},{"h":186.0,"v":0.529,"s":"f"},{"h":187.1,"v":0.561,"s":"f"},{"h":188.4,"v":0.576,"s":"f"},{"h":189.7,"v":0.580,"s":"f"},{"h":190.6,"v":0.550,"s":"f"},{"h":191.5,"v":0.497,"s":"f"},{"h":192.4,"v":0.444,"s":"f"},{"h":193.3,"v":0.418,"s":"f"},{"h":194.6,"v":0.402,"s":"f"},{"h":196.0,"v":0.399,"s":"f"},{"h":197.1,"v":0.405,"s":"f"},{"h":197.9,"v":0.454,"s":"f"},{"h":198.7,"v":0.518,"s":"f"},{"h":199.6,"v":0.552,"s":"f"},
{"h":200.0,"v":0.561,"s":"f"},{"h":201.3,"v":0.522,"s":"f"},{"h":202.7,"v":0.508,"s":"f"},{"h":204.0,"v":0.503,"s":"f"},{"h":206.3,"v":0.494,"s":"f"},{"h":208.0,"v":0.485,"s":"f"},{"h":208.9,"v":0.500,"s":"f"},{"h":209.6,"v":0.560,"s":"f"},{"h":210.3,"v":0.593,"s":"f"},{"h":211.6,"v":0.575,"s":"f"},{"h":212.9,"v":0.571,"s":"f"},{"h":213.8,"v":0.520,"s":"f"},{"h":214.7,"v":0.467,"s":"f"},{"h":215.6,"v":0.430,"s":"f"},{"h":216.5,"v":0.410,"s":"f"},{"h":217.9,"v":0.388,"s":"f"},{"h":219.2,"v":0.383,"s":"f"},{"h":220.5,"v":0.386,"s":"f"},{"h":221.4,"v":0.430,"s":"f"},{"h":222.1,"v":0.500,"s":"f"},{"h":222.9,"v":0.535,"s":"f"},{"h":224.1,"v":0.515,"s":"f"},{"h":225.0,"v":0.490,"s":"f"},{"h":226.3,"v":0.480,"s":"f"},{"h":228.1,"v":0.473,"s":"f"},{"h":229.5,"v":0.467,"s":"f"},{"h":230.8,"v":0.463,"s":"f"},{"h":231.9,"v":0.456,"s":"f"},{"h":233.0,"v":0.507,"s":"f"},{"h":233.9,"v":0.535,"s":"f"},{"h":235.3,"v":0.546,"s":"f"},{"h":236.6,"v":0.556,"s":"f"},{"h":237.5,"v":0.578,"s":"f"},{"h":237.9,"v":0.599,"s":"f"},{"h":238.8,"v":0.540,"s":"f"},{"h":239.3,"v":0.476,"s":"f"},{"h":240.2,"v":0.454,"s":"f"},{"h":241.1,"v":0.422,"s":"f"},{"h":242.4,"v":0.384,"s":"f"},{"h":243.8,"v":0.378,"s":"f"},{"h":244.9,"v":0.384,"s":"f"},{"h":245.5,"v":0.444,"s":"f"},{"h":246.2,"v":0.505,"s":"f"},{"h":246.9,"v":0.561,"s":"f"},{"h":247.8,"v":0.595,"s":"f"},{"h":248.7,"v":0.561,"s":"f"},{"h":249.1,"v":0.532,"s":"f"},{"h":250.0,"v":0.522,"s":"f"},{"h":251.3,"v":0.512,"s":"f"},{"h":252.7,"v":0.505,"s":"f"},{"h":254.0,"v":0.497,"s":"f"},{"h":254.9,"v":0.490,"s":"f"},{"h":255.8,"v":0.487,"s":"f"},{"h":256.7,"v":0.497,"s":"f"},{"h":257.6,"v":0.550,"s":"f"},{"h":258.5,"v":0.582,"s":"f"},{"h":258.9,"v":0.589,"s":"f"},{"h":259.8,"v":0.578,"s":"f"},{"h":260.7,"v":0.575,"s":"f"},{"h":261.9,"v":0.578,"s":"f"},{"h":262.5,"v":0.571,"s":"f"},{"h":262.9,"v":0.507,"s":"f"},{"h":263.4,"v":0.465,"s":"f"},{"h":264.3,"v":0.444,"s":"f"},{"h":265.2,"v":0.412,"s":"f"},{"h":266.1,"v":0.391,"s":"f"},{"h":267.0,"v":0.375,"s":"f"},{"h":267.9,"v":0.379,"s":"f"},{"h":269.2,"v":0.386,"s":"f"},{"h":269.6,"v":0.444,"s":"f"},{"h":270.1,"v":0.497,"s":"f"},{"h":271.0,"v":0.561,"s":"f"},{"h":271.9,"v":0.606,"s":"f"},{"h":272.3,"v":0.560,"s":"f"},{"h":272.8,"v":0.535,"s":"f"},{"h":273.7,"v":0.520,"s":"f"},{"h":275.0,"v":0.510,"s":"f"},{"h":276.8,"v":0.500,"s":"f"},{"h":278.6,"v":0.492,"s":"f"},{"h":279.7,"v":0.497,"s":"f"},{"h":280.6,"v":0.505,"s":"f"},{"h":281.3,"v":0.540,"s":"f"},{"h":282.1,"v":0.576,"s":"f"},{"h":283.0,"v":0.583,"s":"f"},{"h":284.4,"v":0.583,"s":"f"},{"h":285.7,"v":0.561,"s":"f"},{"h":286.6,"v":0.507,"s":"f"},{"h":287.5,"v":0.465,"s":"f"},{"h":288.4,"v":0.444,"s":"f"},{"h":289.3,"v":0.422,"s":"f"},{"h":290.6,"v":0.404,"s":"f"},{"h":292.0,"v":0.404,"s":"f"},{"h":292.9,"v":0.412,"s":"f"},{"h":293.5,"v":0.454,"s":"f"},{"h":294.2,"v":0.507,"s":"f"},{"h":295.1,"v":0.549,"s":"f"},{"h":296.4,"v":0.530,"s":"f"},{"h":297.8,"v":0.512,"s":"f"},{"h":299.1,"v":0.505,"s":"f"},
{"h":300.7,"v":0.499,"s":"f"},{"h":302.5,"v":0.492,"s":"f"},{"h":304.1,"v":0.484,"s":"f"},{"h":305.2,"v":0.497,"s":"f"},{"h":306.1,"v":0.539,"s":"f"},{"h":307.0,"v":0.575,"s":"f"},{"h":307.9,"v":0.582,"s":"f"},{"h":308.8,"v":0.585,"s":"f"},{"h":309.2,"v":0.575,"s":"f"},{"h":310.1,"v":0.518,"s":"f"},{"h":311.0,"v":0.476,"s":"f"},{"h":312.3,"v":0.433,"s":"f"},{"h":313.2,"v":0.403,"s":"f"},{"h":314.6,"v":0.392,"s":"f"},{"h":315.9,"v":0.393,"s":"f"},{"h":317.2,"v":0.400,"s":"f"},{"h":317.7,"v":0.454,"s":"f"},{"h":318.1,"v":0.518,"s":"f"},{"h":318.8,"v":0.561,"s":"f"},{"h":319.9,"v":0.535,"s":"f"},{"h":320.8,"v":0.522,"s":"f"},{"h":322.1,"v":0.514,"s":"f"},{"h":323.9,"v":0.508,"s":"f"},{"h":325.7,"v":0.503,"s":"f"},{"h":327.1,"v":0.495,"s":"f"},{"h":327.9,"v":0.490,"s":"f"},{"h":328.8,"v":0.505,"s":"f"},{"h":329.7,"v":0.569,"s":"f"},{"h":331.1,"v":0.565,"s":"f"},{"h":332.4,"v":0.573,"s":"f"},{"h":333.3,"v":0.539,"s":"f"},{"h":333.8,"v":0.486,"s":"f"},{"h":334.6,"v":0.454,"s":"f"},{"h":336.0,"v":0.433,"s":"f"},{"h":337.3,"v":0.412,"s":"f"},{"h":338.7,"v":0.397,"s":"f"},{"h":339.6,"v":0.397,"s":"f"},{"h":340.9,"v":0.403,"s":"f"},{"h":341.8,"v":0.454,"s":"f"},{"h":342.7,"v":0.497,"s":"f"},{"h":343.5,"v":0.507,"s":"f"},{"h":344.0,"v":0.500,"s":"f"},{"h":345.8,"v":0.478,"s":"f"},{"h":347.1,"v":0.475,"s":"f"},{"h":348.5,"v":0.470,"s":"f"},{"h":350.3,"v":0.462,"s":"f"},{"h":352.1,"v":0.454,"s":"f"},{"h":353.6,"v":0.465,"s":"f"},{"h":354.3,"v":0.518,"s":"f"},{"h":355.0,"v":0.561,"s":"f"},{"h":356.1,"v":0.579,"s":"f"},{"h":357.0,"v":0.571,"s":"f"},{"h":357.9,"v":0.529,"s":"f"},{"h":358.3,"v":0.476,"s":"f"},{"h":359.6,"v":0.444,"s":"f"},{"h":361.0,"v":0.422,"s":"f"},{"h":362.3,"v":0.403,"s":"f"},{"h":363.7,"v":0.401,"s":"f"},{"h":365.0,"v":0.405,"s":"f"},{"h":365.4,"v":0.454,"s":"f"},{"h":366.1,"v":0.518,"s":"f"},{"h":367.2,"v":0.520,"s":"f"},{"h":368.1,"v":0.530,"s":"f"},{"h":369.0,"v":0.541,"s":"f"},{"h":369.5,"v":0.525,"s":"f"},{"h":370.8,"v":0.514,"s":"f"},{"h":372.1,"v":0.507,"s":"f"},{"h":373.9,"v":0.500,"s":"f"},{"h":375.7,"v":0.492,"s":"f"},{"h":376.6,"v":0.497,"s":"f"},{"h":377.5,"v":0.539,"s":"f"},{"h":378.8,"v":0.563,"s":"f"},{"h":380.2,"v":0.568,"s":"f"},{"h":381.1,"v":0.567,"s":"f"},{"h":382.0,"v":0.539,"s":"f"},{"h":383.3,"v":0.497,"s":"f"},{"h":384.6,"v":0.454,"s":"f"},{"h":386.0,"v":0.429,"s":"f"},{"h":387.1,"v":0.414,"s":"f"},{"h":388.7,"v":0.420,"s":"f"},{"h":389.3,"v":0.476,"s":"f"},{"h":390.0,"v":0.561,"s":"f"},{"h":390.7,"v":0.588,"s":"f"},{"h":391.8,"v":0.580,"s":"f"},{"h":393.1,"v":0.556,"s":"f"},{"h":394.9,"v":0.548,"s":"f"},{"h":396.7,"v":0.539,"s":"f"},{"h":398.0,"v":0.530,"s":"f"},{"h":399.4,"v":0.545,"s":"f"},
{"h":400.2,"v":0.560,"s":"f"},{"h":401.1,"v":0.585,"s":"f"},{"h":402.0,"v":0.613,"s":"f"},{"h":403.3,"v":0.590,"s":"f"},{"h":404.6,"v":0.588,"s":"f"},{"h":405.5,"v":0.539,"s":"f"},{"h":406.3,"v":0.486,"s":"f"},{"h":406.9,"v":0.454,"s":"f"},{"h":408.2,"v":0.422,"s":"f"},{"h":409.6,"v":0.410,"s":"f"},{"h":410.9,"v":0.399,"s":"f"},{"h":412.2,"v":0.399,"s":"f"},{"h":413.4,"v":0.400,"s":"f"},{"h":414.0,"v":0.454,"s":"f"},{"h":414.6,"v":0.539,"s":"f"},{"h":415.4,"v":0.575,"s":"f"},{"h":415.8,"v":0.587,"s":"f"},{"h":416.3,"v":0.550,"s":"f"},{"h":417.1,"v":0.530,"s":"f"},{"h":418.5,"v":0.522,"s":"f"},{"h":419.8,"v":0.514,"s":"f"},{"h":421.6,"v":0.505,"s":"f"},{"h":422.9,"v":0.495,"s":"f"},{"h":424.1,"v":0.488,"s":"f"},{"h":425.2,"v":0.518,"s":"f"},{"h":426.1,"v":0.589,"s":"f"},{"h":427.4,"v":0.572,"s":"f"},{"h":428.8,"v":0.578,"s":"f"},{"h":429.6,"v":0.561,"s":"f"},{"h":430.5,"v":0.497,"s":"f"},{"h":431.4,"v":0.454,"s":"f"},{"h":432.3,"v":0.422,"s":"f"},{"h":433.7,"v":0.397,"s":"f"},{"h":434.8,"v":0.380,"s":"f"},{"h":436.1,"v":0.378,"s":"f"},{"h":437.2,"v":0.384,"s":"f"},{"h":437.9,"v":0.433,"s":"f"},{"h":438.6,"v":0.482,"s":"f"},{"h":439.3,"v":0.488,"s":"f"},{"h":439.9,"v":0.490,"s":"f"},{"h":440.8,"v":0.514,"s":"f"},{"h":441.4,"v":0.500,"s":"f"},{"h":442.1,"v":0.488,"s":"f"},{"h":443.5,"v":0.480,"s":"f"},{"h":444.8,"v":0.473,"s":"f"},{"h":446.6,"v":0.468,"s":"f"},{"h":447.9,"v":0.460,"s":"f"},{"h":449.1,"v":0.465,"s":"f"},{"h":449.7,"v":0.518,"s":"f"},{"h":450.6,"v":0.556,"s":"f"},{"h":452.0,"v":0.569,"s":"f"},{"h":452.9,"v":0.572,"s":"f"},{"h":453.9,"v":0.550,"s":"f"},{"h":454.6,"v":0.497,"s":"f"},{"h":455.5,"v":0.444,"s":"f"},{"h":456.9,"v":0.412,"s":"f"},{"h":458.2,"v":0.387,"s":"f"},{"h":459.6,"v":0.379,"s":"f"},{"h":461.1,"v":0.382,"s":"f"},{"h":461.8,"v":0.433,"s":"f"},{"h":462.4,"v":0.476,"s":"f"},{"h":463.1,"v":0.497,"s":"f"},{"h":464.0,"v":0.507,"s":"f"},{"h":464.9,"v":0.485,"s":"f"},{"h":466.1,"v":0.475,"s":"f"},{"h":467.1,"v":0.466,"s":"f"},{"h":468.5,"v":0.452,"s":"f"},{"h":469.8,"v":0.446,"s":"f"},{"h":471.2,"v":0.440,"s":"f"},{"h":472.1,"v":0.439,"s":"f"},{"h":472.9,"v":0.454,"s":"f"},{"h":473.6,"v":0.518,"s":"f"},{"h":474.3,"v":0.565,"s":"f"},{"h":475.2,"v":0.575,"s":"f"},{"h":476.5,"v":0.573,"s":"f"},{"h":477.4,"v":0.550,"s":"f"},{"h":477.9,"v":0.497,"s":"f"},{"h":478.8,"v":0.444,"s":"f"},{"h":480.1,"v":0.416,"s":"f"},{"h":481.4,"v":0.391,"s":"f"},{"h":482.8,"v":0.373,"s":"f"},{"h":483.9,"v":0.370,"s":"f"},{"h":485.2,"v":0.375,"s":"f"},{"h":485.9,"v":0.433,"s":"f"},{"h":486.3,"v":0.497,"s":"f"},{"h":487.2,"v":0.533,"s":"f"},{"h":488.6,"v":0.510,"s":"f"},{"h":489.9,"v":0.500,"s":"f"},{"h":491.7,"v":0.494,"s":"f"},{"h":493.5,"v":0.488,"s":"f"},{"h":494.8,"v":0.483,"s":"f"},{"h":496.2,"v":0.476,"s":"f"},{"h":497.1,"v":0.482,"s":"f"},{"h":497.9,"v":0.518,"s":"f"},{"h":498.8,"v":0.561,"s":"f"},{"h":500.0,"v":0.580,"s":"f"},
{"h":501.8,"v":0.582,"s":"f"},{"h":502.5,"v":0.520,"s":"f"},{"h":503.1,"v":0.486,"s":"f"},{"h":504.0,"v":0.454,"s":"f"},{"h":504.9,"v":0.433,"s":"f"},{"h":506.3,"v":0.410,"s":"f"},{"h":507.6,"v":0.405,"s":"f"},{"h":508.9,"v":0.407,"s":"f"},{"h":509.6,"v":0.454,"s":"f"},{"h":510.3,"v":0.518,"s":"f"},{"h":511.0,"v":0.575,"s":"f"},{"h":511.6,"v":0.586,"s":"f"},{"h":512.5,"v":0.560,"s":"f"},{"h":512.9,"v":0.535,"s":"f"},{"h":514.3,"v":0.517,"s":"f"},{"h":516.1,"v":0.510,"s":"f"},{"h":517.9,"v":0.500,"s":"f"},{"h":518.8,"v":0.497,"s":"f"},{"h":519.8,"v":0.493,"s":"f"},{"h":520.7,"v":0.500,"s":"f"},{"h":521.4,"v":0.571,"s":"f"},{"h":522.3,"v":0.581,"s":"f"},{"h":523.7,"v":0.575,"s":"f"},{"h":525.0,"v":0.565,"s":"f"},{"h":525.9,"v":0.507,"s":"f"},{"h":526.8,"v":0.476,"s":"f"},{"h":527.7,"v":0.444,"s":"f"},{"h":529.0,"v":0.412,"s":"f"},{"h":530.4,"v":0.390,"s":"f"},{"h":531.7,"v":0.386,"s":"f"},{"h":533.0,"v":0.390,"s":"f"},{"h":533.5,"v":0.412,"s":"f"},{"h":534.4,"v":0.448,"s":"f"},{"h":535.7,"v":0.456,"s":"f"},{"h":537.1,"v":0.460,"s":"f"},{"h":537.9,"v":0.452,"s":"f"},{"h":538.8,"v":0.430,"s":"f"},{"h":539.7,"v":0.418,"s":"f"},{"h":540.4,"v":0.458,"s":"f"},{"h":541.1,"v":0.469,"s":"f"},{"h":542.9,"v":0.462,"s":"f"},{"h":543.9,"v":0.460,"s":"f"},{"h":545.1,"v":0.468,"s":"f"},{"h":546.0,"v":0.470,"s":"f"},{"h":546.9,"v":0.518,"s":"f"},{"h":547.8,"v":0.548,"s":"f"},{"h":548.7,"v":0.566,"s":"f"},{"h":550.0,"v":0.550,"s":"f"},{"h":550.9,"v":0.465,"s":"f"},{"h":552.0,"v":0.433,"s":"f"},{"h":553.1,"v":0.412,"s":"f"},{"h":554.5,"v":0.391,"s":"f"},{"h":555.8,"v":0.387,"s":"f"},{"h":557.1,"v":0.393,"s":"f"},{"h":557.6,"v":0.454,"s":"f"},{"h":558.5,"v":0.529,"s":"f"},{"h":559.8,"v":0.573,"s":"f"},{"h":560.7,"v":0.535,"s":"f"},{"h":561.6,"v":0.500,"s":"f"},{"h":562.9,"v":0.492,"s":"f"},{"h":564.7,"v":0.487,"s":"f"},{"h":566.5,"v":0.482,"s":"f"},{"h":567.9,"v":0.474,"s":"f"},{"h":568.8,"v":0.486,"s":"f"},{"h":569.6,"v":0.539,"s":"f"},{"h":570.4,"v":0.603,"s":"f"},{"h":571.0,"v":0.619,"s":"f"},{"h":572.3,"v":0.605,"s":"f"},{"h":573.9,"v":0.603,"s":"f"},{"h":574.6,"v":0.561,"s":"f"},{"h":575.0,"v":0.476,"s":"f"},{"h":575.9,"v":0.444,"s":"f"},{"h":577.2,"v":0.412,"s":"f"},{"h":578.6,"v":0.382,"s":"f"},{"h":579.6,"v":0.369,"s":"f"},{"h":580.6,"v":0.371,"s":"f"},{"h":581.3,"v":0.433,"s":"f"},{"h":582.1,"v":0.507,"s":"f"},{"h":583.3,"v":0.600,"s":"f"},{"h":584.2,"v":0.575,"s":"f"},{"h":585.0,"v":0.522,"s":"f"},{"h":586.2,"v":0.502,"s":"f"},{"h":587.5,"v":0.498,"s":"f"},{"h":589.3,"v":0.492,"s":"f"},{"h":590.6,"v":0.486,"s":"f"},{"h":592.0,"v":0.480,"s":"f"},{"h":592.9,"v":0.490,"s":"f"},{"h":593.6,"v":0.582,"s":"f"},{"h":594.8,"v":0.623,"s":"f"},{"h":596.0,"v":0.603,"s":"f"},{"h":597.3,"v":0.585,"s":"f"},{"h":598.4,"v":0.497,"s":"f"},{"h":599.1,"v":0.454,"s":"f"},
{"h":601.2,"v":0.433,"s":"f"},{"h":602.5,"v":0.403,"s":"f"},{"h":603.6,"v":0.401,"s":"f"},{"h":605.0,"v":0.403,"s":"f"},{"h":605.6,"v":0.454,"s":"f"},{"h":606.5,"v":0.515,"s":"f"},{"h":607.1,"v":0.530,"s":"f"},{"h":608.3,"v":0.516,"s":"f"},{"h":609.6,"v":0.500,"s":"f"},{"h":611.4,"v":0.492,"s":"f"},{"h":613.2,"v":0.486,"s":"f"},{"h":614.6,"v":0.482,"s":"f"},{"h":615.9,"v":0.482,"s":"f"},{"h":617.2,"v":0.490,"s":"f"},{"h":618.1,"v":0.550,"s":"f"},{"h":619.5,"v":0.572,"s":"f"},{"h":620.8,"v":0.580,"s":"f"},{"h":622.0,"v":0.576,"s":"f"},{"h":622.6,"v":0.518,"s":"f"},{"h":623.0,"v":0.454,"s":"f"},{"h":623.9,"v":0.422,"s":"f"},{"h":625.3,"v":0.392,"s":"f"},{"h":626.6,"v":0.382,"s":"f"},{"h":627.7,"v":0.382,"s":"f"},{"h":629.3,"v":0.386,"s":"f"},{"h":630.2,"v":0.454,"s":"f"},{"h":630.9,"v":0.561,"s":"f"},{"h":632.0,"v":0.591,"s":"f"},{"h":632.4,"v":0.555,"s":"f"},{"h":633.3,"v":0.510,"s":"f"},{"h":634.6,"v":0.497,"s":"f"},{"h":636.4,"v":0.485,"s":"f"},{"h":638.2,"v":0.475,"s":"f"},{"h":639.8,"v":0.469,"s":"f"},{"h":640.9,"v":0.480,"s":"f"},{"h":641.6,"v":0.539,"s":"f"},{"h":643.1,"v":0.555,"s":"f"},{"h":644.5,"v":0.562,"s":"f"},{"h":645.4,"v":0.539,"s":"f"},{"h":646.3,"v":0.476,"s":"f"},{"h":647.1,"v":0.444,"s":"f"},{"h":648.5,"v":0.412,"s":"f"},{"h":649.8,"v":0.392,"s":"f"},{"h":651.6,"v":0.378,"s":"f"},{"h":652.9,"v":0.380,"s":"f"},{"h":653.6,"v":0.433,"s":"f"},{"h":654.7,"v":0.452,"s":"f"},{"h":656.1,"v":0.454,"s":"f"},{"h":657.0,"v":0.440,"s":"f"},{"h":658.0,"v":0.427,"s":"f"},{"h":658.9,"v":0.440,"s":"f"},{"h":660.1,"v":0.453,"s":"f"},{"h":661.4,"v":0.447,"s":"f"},{"h":663.0,"v":0.437,"s":"f"},{"h":664.1,"v":0.440,"s":"f"},{"h":665.0,"v":0.442,"s":"f"},{"h":665.9,"v":0.422,"s":"f"},{"h":666.6,"v":0.476,"s":"f"},{"h":667.2,"v":0.529,"s":"f"},{"h":668.6,"v":0.546,"s":"f"},{"h":669.6,"v":0.549,"s":"f"},{"h":670.4,"v":0.497,"s":"f"},{"h":671.3,"v":0.454,"s":"f"},{"h":672.6,"v":0.412,"s":"f"},{"h":673.9,"v":0.382,"s":"f"},{"h":675.5,"v":0.369,"s":"f"},{"h":677.1,"v":0.375,"s":"f"},{"h":677.7,"v":0.433,"s":"f"},{"h":678.6,"v":0.486,"s":"f"},{"h":679.3,"v":0.518,"s":"f"},{"h":680.0,"v":0.549,"s":"f"},{"h":680.6,"v":0.510,"s":"f"},{"h":682.0,"v":0.490,"s":"f"},{"h":683.8,"v":0.485,"s":"f"},{"h":685.1,"v":0.480,"s":"f"},{"h":686.4,"v":0.472,"s":"f"},{"h":688.0,"v":0.465,"s":"f"},{"h":689.3,"v":0.476,"s":"f"},{"h":689.8,"v":0.518,"s":"f"},{"h":690.4,"v":0.603,"s":"f"},{"h":691.1,"v":0.647,"s":"f"},{"h":692.2,"v":0.637,"s":"f"},{"h":693.4,"v":0.631,"s":"f"},{"h":694.0,"v":0.561,"s":"f"},{"h":694.9,"v":0.476,"s":"f"},{"h":695.8,"v":0.433,"s":"f"},{"h":697.1,"v":0.395,"s":"f"},{"h":698.5,"v":0.369,"s":"f"},{"h":699.4,"v":0.367,"s":"f"},{"h":700.7,"v":0.370,"s":"f"},{"h":701.4,"v":0.433,"s":"f"},{"h":702.0,"v":0.497,"s":"f"},{"h":702.6,"v":0.536,"s":"f"},{"h":703.8,"v":0.534,"s":"f"},{"h":704.7,"v":0.507,"s":"f"},{"h":706.1,"v":0.492,"s":"f"},{"h":707.9,"v":0.488,"s":"f"},{"h":709.6,"v":0.482,"s":"f"},{"h":711.0,"v":0.474,"s":"f"},{"h":711.9,"v":0.470,"s":"f"},{"h":712.8,"v":0.486,"s":"f"},{"h":713.4,"v":0.539,"s":"f"},{"h":714.6,"v":0.565,"s":"f"},{"h":715.9,"v":0.571,"s":"f"},{"h":716.8,"v":0.572,"s":"f"},{"h":717.7,"v":0.550,"s":"f"},{"h":718.4,"v":0.497,"s":"f"},{"h":719.0,"v":0.458,"s":"f"}
]},
"encoding":{
"x":{"field":"h","type":"quantitative","scale":{"domain":[-35.95,754.95],"nice":false,"zero":false},"axis":{"values":[0,100,200,300,400,500,600,700],"title":"Time Step (Hour)","titlePadding":14}},
"y":{"field":"v","type":"quantitative","scale":{"domain":[0.333,0.6796],"nice":false,"zero":false},"axis":{"values":[0.35,0.4,0.45,0.5,0.55,0.6,0.65],"format":".2f","title":"Active Power (Scaled)","titlePadding":18}},
"color":{"field":"s","type":"nominal","scale":{"domain":["a","f"],"range":["#1f77b4","#ff7f0e"]},"legend":{"title":null,"orient":"none","legendX":1199,"legendY":939,"labelExpr":"datum.value === 'a' ? 'Actual - Sensor 17' : 'Forecasted - Sensor 17'"}},
"strokeDash":{"field":"s","type":"nominal","scale":{"domain":["a","f"],"range":[[1,0],[26,12]]},"legend":{"title":null,"orient":"none","legendX":1199,"legendY":939,"labelExpr":"datum.value === 'a' ? 'Actual - Sensor 17' : 'Forecasted - Sensor 17'"}}
},
"layer":[
{"transform":[{"filter":"datum.s === 'a'"}],"mark":{"type":"line","strokeWidth":7,"strokeJoin":"round"}},
{"transform":[{"filter":"datum.s === 'f'"}],"mark":{"type":"line","strokeWidth":7,"strokeJoin":"round"}}
]
}
